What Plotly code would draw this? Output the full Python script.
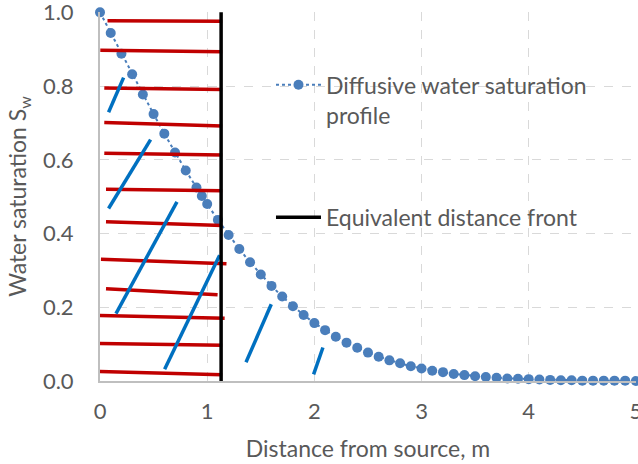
import plotly.graph_objects as go

# Diffusive water saturation profile
dist = [0.0, 0.1, 0.2, 0.3, 0.4, 0.5, 0.6, 0.7, 0.8, 0.9, 0.95, 1.0,
        1.1, 1.2, 1.3, 1.4, 1.5, 1.6, 1.7, 1.8, 1.9, 2.0,
        2.1, 2.2, 2.3, 2.4, 2.5, 2.6, 2.7, 2.8, 2.9, 3.0,
        3.1, 3.2, 3.3, 3.4, 3.5, 3.6, 3.7, 3.8, 3.9, 4.0,
        4.1, 4.2, 4.3, 4.4, 4.5, 4.6, 4.7, 4.8, 4.9, 5.0]
sat = [1.000, 0.944, 0.888, 0.832, 0.777, 0.724, 0.671, 0.620, 0.571, 0.525, 0.502, 0.480,
       0.437, 0.396, 0.358, 0.322, 0.289, 0.258, 0.229, 0.203, 0.179, 0.157,
       0.138, 0.120, 0.104, 0.090, 0.077, 0.066, 0.056, 0.048, 0.040, 0.034,
       0.028, 0.024, 0.019, 0.016, 0.013, 0.011, 0.009, 0.007, 0.006, 0.005,
       0.004, 0.003, 0.002, 0.002, 0.001, 0.001, 0.001, 0.001, 0.001, 0.000]

# Equivalent distance front
front_x = [1.13, 1.13]
front_y = [0.0, 1.0]

# Hand-drawn red hatch segments (start/end in data units)
red_x0 = [0.07, 0.003, 0.04, 0.04, 0.04, 0.056, 0.056, 0.009, 0.056, -0.003, -0.013, -0.028]
red_y0 = [0.977, 0.897, 0.795, 0.701, 0.618, 0.520, 0.432, 0.330, 0.250, 0.178, 0.102, 0.026]
red_x1 = [1.14, 1.14, 1.14, 1.14, 1.14, 1.14, 1.14, 1.18, 1.097, 1.163, 1.14, 1.14]
red_y1 = [0.976, 0.893, 0.791, 0.692, 0.613, 0.516, 0.422, 0.318, 0.234, 0.170, 0.097, 0.017]

# Hand-drawn blue slanted segments
blue_x0 = [0.220, 0.472, 0.718, 1.116, 1.598, 2.080]
blue_y0 = [0.823, 0.655, 0.486, 0.341, 0.208, 0.091]
blue_x1 = [0.080, 0.080, 0.149, 0.603, 1.362, 1.993]
blue_y1 = [0.729, 0.468, 0.183, 0.032, 0.051, 0.018]

x_ticks = [0, 1, 2, 3, 4, 5]
y_ticks = [0.0, 0.2, 0.4, 0.6, 0.8, 1.0]
y_tick_labels = ["0.0", "0.2", "0.4", "0.6", "0.8", "1.0"]


def segs(x0, y0, x1, y1):
    xs, ys = [], []
    for a, b, c, d in zip(x0, y0, x1, y1):
        xs += [a, c, None]
        ys += [b, d, None]
    return xs, ys


FONT = "Lato"
GREY = "#595959"

fig = go.Figure()

fig.add_trace(go.Scatter(
    x=dist, y=sat, mode="lines+markers",
    name="Diffusive water saturation<br>profile",
    line=dict(color="#4a7ebb", width=2, dash="dot"),
    marker=dict(color="#4a7ebb", size=10),
    cliponaxis=False, legend="legend",
))

rx, ry = segs(red_x0, red_y0, red_x1, red_y1)
fig.add_trace(go.Scatter(x=rx, y=ry, mode="lines", showlegend=False,
                         line=dict(color="#c00000", width=3.5), cliponaxis=False))
bx, by = segs(blue_x0, blue_y0, blue_x1, blue_y1)
fig.add_trace(go.Scatter(x=bx, y=by, mode="lines", showlegend=False,
                         line=dict(color="#0070c0", width=3.5), cliponaxis=False))

fig.add_trace(go.Scatter(
    x=front_x, y=front_y, mode="lines",
    name="Equivalent distance front",
    line=dict(color="#000000", width=3.5),
    cliponaxis=False, legend="legend2",
))

fig.update_layout(
    width=638, height=464,
    margin=dict(l=100, r=2, t=12, b=83),
    paper_bgcolor="white", plot_bgcolor="white",
    font=dict(family=FONT, color=GREY, size=21),
    legend=dict(x=0.319, y=0.861, xanchor="left", yanchor="top",
                bgcolor="rgba(0,0,0,0)", font=dict(size=23, color=GREY),
                valign="top", itemwidth=45),
    legend2=dict(x=0.319, y=0.502, xanchor="left", yanchor="top",
                 bgcolor="rgba(0,0,0,0)", font=dict(size=23, color=GREY),
                 itemwidth=45),
    xaxis=dict(range=[0, 5.001], tickvals=x_ticks, showgrid=True,
               gridcolor="#d9d9d9", griddash="dash", gridwidth=1,
               showline=True, linecolor="#bfbfbf", linewidth=2,
               zeroline=False, ticks="", ticklabelstandoff=10, automargin=False,
               ticklabeloverflow="allow",
               tickfont=dict(size=22, color=GREY),
               title=dict(text="Distance from source, m", font=dict(size=23, color=GREY),
                          standoff=17)),
    yaxis=dict(range=[0, 1.001], tickvals=y_ticks, ticktext=y_tick_labels, showgrid=True,
               gridcolor="#d9d9d9", griddash="dash", gridwidth=1,
               showline=True, linecolor="#bfbfbf", linewidth=2,
               zeroline=False, ticks="", ticklabelstandoff=20, automargin=False,
               ticklabeloverflow="allow",
               tickfont=dict(size=22, color=GREY),
               title=dict(text="Water saturation S<sub>w</sub>", font=dict(size=23, color=GREY),
                          standoff=10)),
)

fig.write_html("out.html", config={"displayModeBar": False},
               post_script="document.body.style.margin='0px';")
